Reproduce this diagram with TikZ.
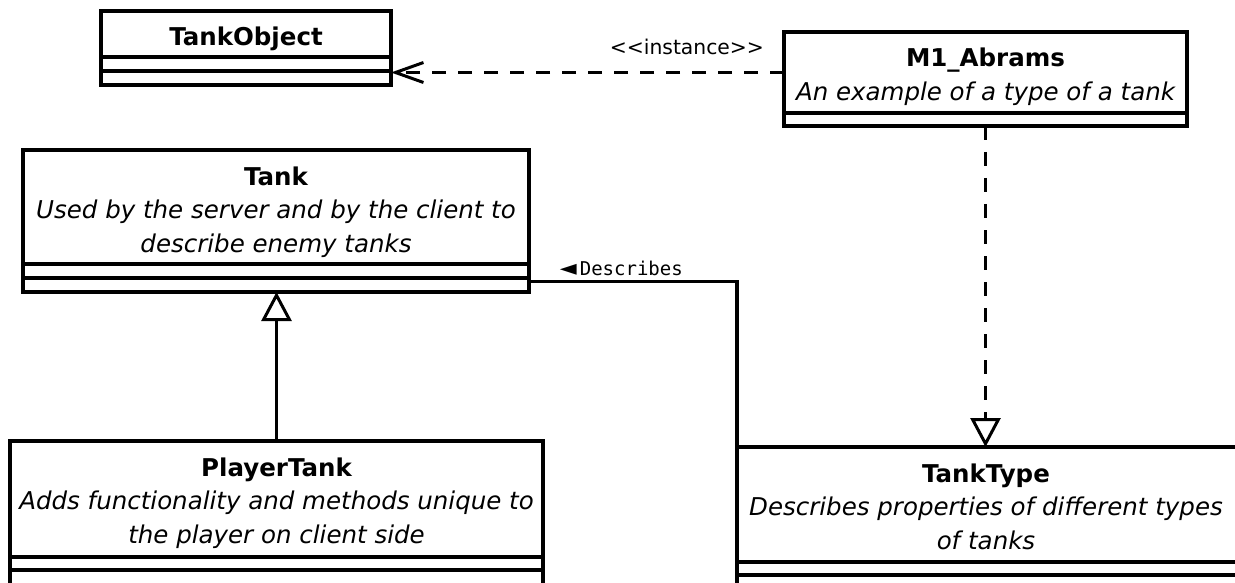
\documentclass[tikz,border=0pt]{standalone}
\usepackage{fontspec}
\setmainfont{DejaVu Sans}
\newfontfamily\monofont{DejaVu Sans Mono}
\usetikzlibrary{arrows.meta,calc}

\tikzset{
  x=1pt, y=-1pt,
  umlline/.style={line width=3.1pt, line join=miter},
  classhead/.style={draw, line width=3.1pt, anchor=north west, inner sep=0pt,
    outer sep=0pt},
  classtext/.style={anchor=north, inner sep=0pt, outer sep=0pt, align=center,
    font=\fontsize{24.5}{33.5}\selectfont},
  compart/.style={draw, line width=3.1pt, anchor=north west, inner sep=0pt,
    outer sep=0pt},
  dashline/.style={dash pattern=on 14pt off 12pt},
  inherit/.style={-{Triangle[open, length=29pt, width=30pt, line width=3pt]}},
  instarrow/.style={-{Straight Barb[length=28pt, width=20pt, line width=3pt]}},
  instfont/.style={font=\fontsize{20.3}{20.3}\selectfont},
  assocfont/.style={font=\monofont\fontsize{19}{19}\selectfont},
}
% first line of a class text: baseline 26pt below the top of the text node
\newcommand\firstline{\rule{0pt}{26pt}}

\begin{document}
\begin{tikzpicture}
\useasboundingbox (0,0) rectangle (1235,583);
\clip (0,0) rectangle (1235,583);

% TankObject
\node[classhead, minimum width=290pt, minimum height=46pt] (tankobject) at (101,11) {};
\node[classtext] (tankobjecttext) at ($(tankobject.north)+(0,9)$)
  {\firstline\bfseries TankObject};
\node[compart, minimum width=290pt, minimum height=14pt] (tankobjectA) at (tankobject.south west) {};
\node[compart, minimum width=290pt, minimum height=14pt] (tankobjectB) at (tankobjectA.south west) {};

% M1_Abrams
\node[classhead, minimum width=403pt, minimum height=81pt] (m1) at (784,32) {};
\node[classtext] (m1text) at ($(m1.north)+(0,9)$)
  {\firstline\bfseries M1\_Abrams\\ \itshape An example of a type of a tank};
\node[compart, minimum width=403pt, minimum height=13pt] (m1A) at (m1.south west) {};

% Tank
\node[classhead, minimum width=506pt, minimum height=114pt] (tank) at (23,150) {};
\node[classtext] (tanktext) at ($(tank.north)+(0,9)$)
  {\firstline\bfseries Tank\\ \itshape Used by the server and by the client to\\ \itshape describe enemy tanks};
\node[compart, minimum width=506pt, minimum height=14pt] (tankA) at (tank.south west) {};
\node[compart, minimum width=506pt, minimum height=14pt] (tankB) at (tankA.south west) {};

% PlayerTank
\node[classhead, minimum width=533pt, minimum height=116pt] (player) at (10,441) {};
\node[classtext] (playertext) at ($(player.north)+(0,9)$)
  {\firstline\bfseries PlayerTank\\ \itshape Adds functionality and methods unique to\\ \itshape the player on client side};
\node[compart, minimum width=533pt, minimum height=13pt] (playerA) at (player.south west) {};
\node[compart, minimum width=533pt, minimum height=20pt] (playerB) at (playerA.south west) {};

% TankType
\node[classhead, minimum width=520pt, minimum height=115pt] (tanktype) at (737,447) {};
\node[classtext] (tanktypetext) at ($(tanktype.north west)+(249,9)$)
  {\firstline\bfseries TankType\\ \itshape Describes properties of different types\\ \itshape of tanks};
\node[compart, minimum width=520pt, minimum height=13pt] (tanktypeA) at (tanktype.south west) {};
\node[compart, minimum width=520pt, minimum height=20pt] (tanktypeB) at (tanktypeA.south west) {};

% instance dependency
\draw[umlline, dashline, instarrow] (m1.west) -- (m1.west -| tankobject.east)
  node[instfont, pos=0.247, yshift=26pt] (instlabel) {<\kern0pt<instance>\kern0pt>};

% realization M1_Abrams -> TankType
\draw[umlline, dashline, inherit] (m1A.south) -- (m1A.south |- tanktype.north);

% generalization PlayerTank -> Tank
\draw[umlline, inherit] (player.north) -- (player.north |- tankB.south);

% association Tank -- TankType
\draw[umlline] ([yshift=3.5pt]tankB.east) -| (tanktype.north west)
  node[assocfont, pos=0.222, yshift=13pt] (desclabel) {{\rmfamily\fontsize{22}{19}\selectfont ◄}\hspace{3pt}Describes};
\end{tikzpicture}
\end{document}
